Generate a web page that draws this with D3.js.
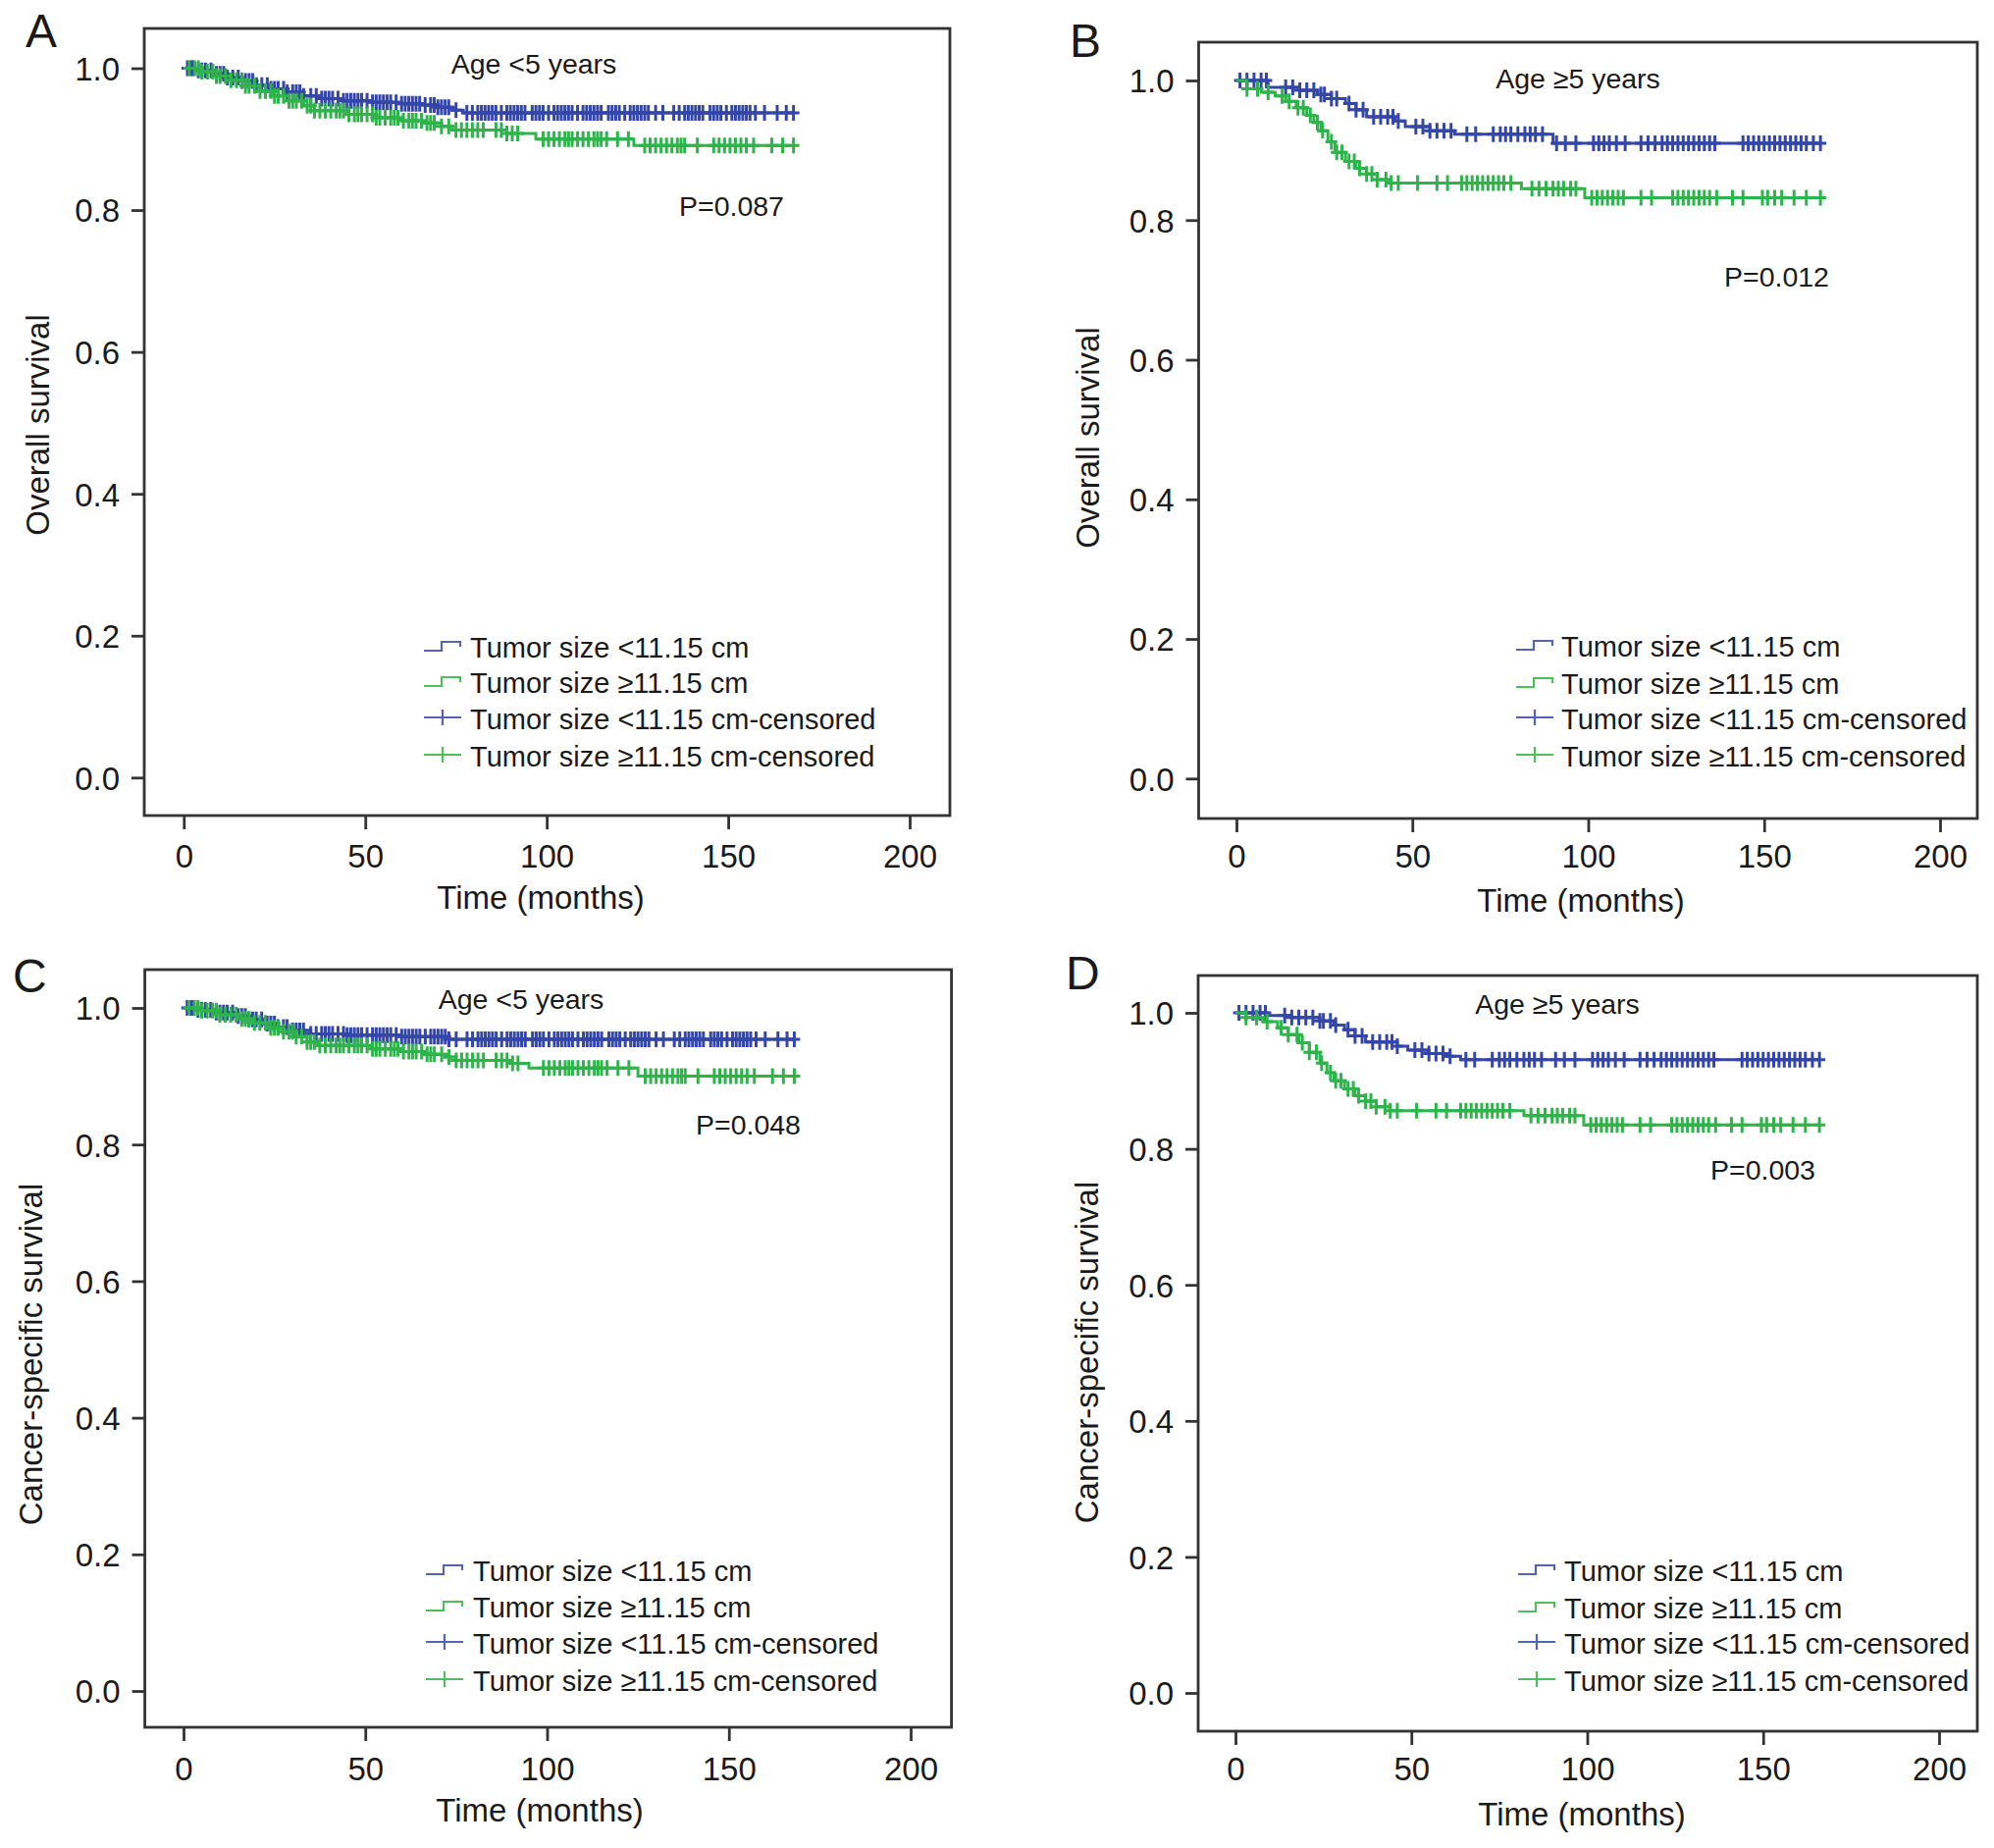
<!DOCTYPE html>
<html>
<head>
<meta charset="utf-8">
<script src="https://cdn.jsdelivr.net/npm/d3@7"></script>
<style>
  body { margin: 0; background: #fff; }
  text { font-family: "Liberation Sans", Arial, Helvetica, sans-serif; fill: #1a1a1a; }
</style>
</head>
<body>
<div id="chart"></div>
<script>
var svgWidth = 2032;
var svgHeight = 1883;

// axis ticks
var xTicks = [0, 50, 100, 150, 200];
var yTicks = [0, 0.2, 0.4, 0.6, 0.8, 1.0];

// text
var panelLetters = ["A", "B", "C", "D"];
var ageTitles = ["Age <5 years", "Age \u22655 years", "Age <5 years", "Age \u22655 years"];
var pValues = ["P=0.087", "P=0.012", "P=0.048", "P=0.003"];
var yTitles = ["Overall survival", "Overall survival", "Cancer-specific survival", "Cancer-specific survival"];
var legendLabels = [
  "Tumor size <11.15 cm",
  "Tumor size \u226511.15 cm",
  "Tumor size <11.15 cm-censored",
  "Tumor size \u226511.15 cm-censored"
];

// Kaplan-Meier steps [time (months), survival]
var osYoungSmall = [[0,1],[4,0.997],[8,0.992],[12,0.987],[16,0.982],[20,0.976],[24,0.971],[28,0.966],[33,0.961],[38,0.957],[44,0.954],[52,0.952],[60,0.950],[66,0.948],[70,0.945],[74,0.941],[77,0.937]];
var osYoungLarge = [[0,1],[5,0.995],[9,0.989],[13,0.983],[17,0.975],[21,0.968],[25,0.961],[29,0.954],[33,0.947],[36,0.940],[45,0.935],[53,0.930],[60,0.926],[66,0.923],[71,0.918],[74,0.913],[89,0.908],[97,0.900],[124,0.891]];
var osOldSmall = [[0,1],[9,0.990],[18,0.986],[23,0.980],[27,0.974],[31,0.967],[34,0.958],[37,0.948],[45,0.942],[48,0.934],[55,0.928],[62,0.923],[90,0.910]];
var osOldLarge = [[0,1],[3,0.988],[7,0.983],[11,0.978],[14,0.970],[17,0.961],[20,0.950],[22,0.940],[24,0.928],[26,0.912],[28,0.897],[31,0.884],[34,0.874],[37,0.866],[40,0.858],[43,0.853],[81,0.845],[99,0.832]];
var cssYoungSmall = [[0,1],[4,0.997],[9,0.993],[14,0.988],[18,0.983],[22,0.977],[26,0.972],[30,0.967],[35,0.962],[45,0.960],[60,0.958],[73,0.954]];
var cssYoungLarge = [[0,1],[5,0.996],[10,0.990],[15,0.984],[19,0.978],[23,0.971],[27,0.965],[31,0.958],[34,0.950],[37,0.945],[52,0.940],[60,0.936],[66,0.932],[72,0.928],[75,0.923],[90,0.919],[95,0.912],[125,0.900]];
var cssOldSmall = [[0,1],[9,0.996],[16,0.993],[24,0.988],[28,0.982],[31,0.975],[34,0.966],[37,0.957],[46,0.951],[49,0.945],[55,0.940],[60,0.936],[64,0.931]];
var cssOldLarge = [[0,1],[3,0.993],[8,0.987],[12,0.978],[15,0.968],[18,0.956],[21,0.942],[24,0.926],[26,0.912],[28,0.900],[31,0.888],[34,0.878],[37,0.870],[40,0.862],[44,0.856],[82,0.849],[99,0.835]];

// censoring times (months)
var youngSmallCensor = [1,2,2.5,4,5,6,7.5,9,10,11,12,13.5,15,16,17,18,19,20,21.5,23,24,25,26,27.5,28.5,30,31,32,33,35,36.5,38,39,40,41,42.5,44,45,46,47,48,49,50.5,52,53,54,55,56,57,58.5,60,61,62,63,64,65,66.5,68,69,70,71,72,73,75,78,79.5,81,82,83,84,85,86,87.5,89,90,91,92,93,94,96,97,98,99,100.5,102,103,104,105,106,107,108.5,110,111,112,113,114,115,117,118,119,120,121.5,123,124,125,126,127,128,130,132,135,136.5,138,139,140,141,142,143,145,146,147,148,149.5,151,152,153,154,155,156,157.5,160,163.5,166,168];
var youngLargeCensor = [1.5,3,4,5,6.5,8,9,10,11.5,13,14.5,16,17,18,19.5,21,22.5,24,25,26,27.5,29,30,31,32.5,34,35,36,37.5,39,40.5,42,43,44,45.5,47,48,49,50.5,52,53,54,55.5,57,58,59,60.5,62,63,64,65.5,67,68,69,71,73,75,76.5,78,79.5,81,82.5,86,87.5,89,90.5,92,99,100.5,102,103.5,105,106,107,108.5,110,111.5,113,114,115,116.5,119.5,122.5,127,128.5,130,131.5,133,134.5,136,137,138,141.5,146,147.5,149,150.5,152,153.5,155,157,162,165,168];
var oldSmallCensor = [1,3,5,7,8.5,14,16,18,20,22,24,25,27,28.5,32,34,36,39,41,43,44.5,46,51,53,55,57,59,61,65.5,68,73,75,76.5,78,80,82,83.5,85,87,91,93.5,96.5,101.5,103,104.5,106,108,110.5,115,117,119,121,122.5,124,125.5,127,128.5,130,131.5,133,134.5,136,144,145.5,147,148.5,150,151.5,153,154.5,156,157.5,159,160.5,162,164,166];
var oldLargeCensor = [3,6,9,13,15,17.5,19,21,23,24.5,27,28.5,30,32,33.5,35,37,38.5,40,42.5,44,46,51.5,57,60,64,65.5,67,68.5,70,71.5,73,74.5,76,78,84,86,88,90,91.5,93,95,96.5,101,102.5,104,105.5,107,108.5,110,115,118,124,125.5,127,128.5,130,131.5,133,134.5,136.5,141,144,149.5,151,153,155,158.5,162,166];

var blue = "#3446a8";
var green = "#2db44a";
var legendBlue = "#5563b3";
var legendGreen = "#4fbf5c";

var panels = [
  { curves: [osYoungSmall, osYoungLarge], censors: [youngSmallCensor, youngLargeCensor],
    box: [147, 29, 968, 831], xr: [187.3, 927], yr: [792.3, 69.5],
    letter: [26, 48], title: [544, 75], p: [692, 220],
    legend: [432, 479, [670, 706, 743, 781]], yLab: [50, 433], xLab: [551, 926], xTickY: 884 },
  { curves: [osOldSmall, osOldLarge], censors: [oldSmallCensor, oldLargeCensor],
    box: [1221.5, 43, 2015, 834], xr: [1260, 1977], yr: [793.3, 82],
    letter: [1090, 58], title: [1608, 90], p: [1757, 292],
    legend: [1545, 1591, [669, 707, 743, 781]], yLab: [1120, 446], xLab: [1611, 929], xTickY: 884 },
  { curves: [cssYoungSmall, cssYoungLarge], censors: [youngSmallCensor, youngLargeCensor],
    box: [147.6, 988, 969.6, 1760], xr: [187, 928], yr: [1723, 1027],
    letter: [13, 1011], title: [531, 1028], p: [709, 1156],
    legend: [434, 482, [1611, 1648, 1685, 1723]], yLab: [43, 1380], xLab: [550, 1856], xTickY: 1814 },
  { curves: [cssOldSmall, cssOldLarge], censors: [oldSmallCensor, oldLargeCensor],
    box: [1221, 994, 2015, 1764], xr: [1259, 1976], yr: [1725, 1032],
    letter: [1086, 1008], title: [1587, 1033], p: [1743, 1202],
    legend: [1547, 1594, [1611, 1649, 1685, 1723]], yLab: [1119, 1378], xLab: [1612, 1860], xTickY: 1814 }
];

var svg = d3.select("#chart")
  .append("svg")
  .attr("width", svgWidth)
  .attr("height", svgHeight);

svg.append("rect").attr("width", svgWidth).attr("height", svgHeight).attr("fill", "#fff");

// survival at time t from a step list
function survAt(steps, t) {
  var s = steps[0][1];
  steps.forEach(function(d) { if (d[0] <= t) s = d[1]; });
  return s;
}

panels.forEach(function(p, i) {
  var g = svg.append("g");

  var xScale = d3.scaleLinear().domain([0, 200]).range(p.xr);
  var yScale = d3.scaleLinear().domain([0, 1]).range(p.yr);

  // box
  g.append("rect")
    .attr("x", p.box[0])
    .attr("y", p.box[1])
    .attr("width", p.box[2] - p.box[0])
    .attr("height", p.box[3] - p.box[1])
    .attr("fill", "none")
    .attr("stroke", "#333")
    .attr("stroke-width", 2.8);

  // bottom axis
  var bottomAxis = d3.axisBottom(xScale).tickValues(xTicks).tickSize(14).tickPadding(10).tickFormat(d3.format("d"));
  var xAxis = g.append("g")
    .attr("transform", `translate(0, ${p.box[3]})`)
    .call(bottomAxis);
  xAxis.select(".domain").remove();
  xAxis.selectAll(".tick line").attr("stroke", "#333").attr("stroke-width", 2.8);
  xAxis.selectAll(".tick text")
    .attr("font-size", 33)
    .attr("fill", "#1a1a1a")
    .attr("y", null).attr("dy", null)
    .attr("transform", `translate(0, ${p.xTickY - p.box[3]})`);

  // left axis
  var leftAxis = d3.axisLeft(yScale).tickValues(yTicks).tickSize(13).tickPadding(12).tickFormat(d3.format(".1f"));
  var yAxis = g.append("g")
    .attr("transform", `translate(${p.box[0]}, 0)`)
    .call(leftAxis);
  yAxis.select(".domain").remove();
  yAxis.selectAll(".tick line").attr("stroke", "#333").attr("stroke-width", 2.8);
  yAxis.selectAll(".tick text")
    .attr("font-size", 33)
    .attr("fill", "#1a1a1a")
    .attr("dy", "0.36em");

  // curves
  var line = d3.line()
    .x(d => xScale(d[0]))
    .y(d => yScale(d[1]))
    .curve(d3.curveStepAfter);

  var colors = [blue, green];
  p.curves.forEach(function(steps, k) {
    var cens = p.censors[k];
    var lastT = d3.max(cens);
    var pts = steps.concat([[lastT, steps[steps.length - 1][1]]]);
    g.append("path")
      .datum(pts)
      .attr("d", line)
      .attr("fill", "none")
      .attr("stroke", colors[k])
      .attr("stroke-width", 3);

    g.append("g").selectAll("path")
      .data(cens)
      .enter()
      .append("path")
      .attr("d", function(t) {
        var cx = xScale(t), cy = yScale(survAt(steps, t));
        return `M${cx},${cy - 8}V${cy + 8}M${cx - 6},${cy}H${cx + 6}`;
      })
      .attr("stroke", colors[k])
      .attr("stroke-width", 3)
      .attr("fill", "none");
  });

  // panel letter
  g.append("text")
    .attr("x", p.letter[0])
    .attr("y", p.letter[1])
    .attr("font-size", 48)
    .attr("fill", "#111")
    .text(panelLetters[i]);

  // subtitle
  g.append("text")
    .attr("x", p.title[0])
    .attr("y", p.title[1])
    .attr("text-anchor", "middle")
    .attr("font-size", 28.5)
    .text(ageTitles[i]);

  // p value
  g.append("text")
    .attr("x", p.p[0])
    .attr("y", p.p[1])
    .attr("font-size", 28.5)
    .text(pValues[i]);

  // axis titles
  g.append("text")
    .attr("x", p.xLab[0])
    .attr("y", p.xLab[1])
    .attr("text-anchor", "middle")
    .attr("font-size", 33)
    .text("Time (months)");

  g.append("text")
    .attr("transform", `translate(${p.yLab[0]}, ${p.yLab[1]}) rotate(-90)`)
    .attr("text-anchor", "middle")
    .attr("font-size", 33)
    .text(yTitles[i]);

  // legend
  var lx = p.legend[0], tx = p.legend[1], rows = p.legend[2];
  var legendColors = [legendBlue, legendGreen, legendBlue, legendGreen];
  legendLabels.forEach(function(label, r) {
    var by = rows[r];
    var sym;
    if (r < 2) {
      sym = `M${lx},${by - 7}H${lx + 18}V${by - 16}H${lx + 37}V${by - 11}`;
    } else {
      sym = `M${lx},${by - 12}H${lx + 38}M${lx + 19},${by - 20}V${by - 4}`;
    }
    g.append("path")
      .attr("d", sym)
      .attr("fill", "none")
      .attr("stroke", legendColors[r])
      .attr("stroke-width", 2.2);
    g.append("text")
      .attr("x", tx)
      .attr("y", by)
      .attr("font-size", 29)
      .text(label);
  });
});
</script>
</body>
</html>
